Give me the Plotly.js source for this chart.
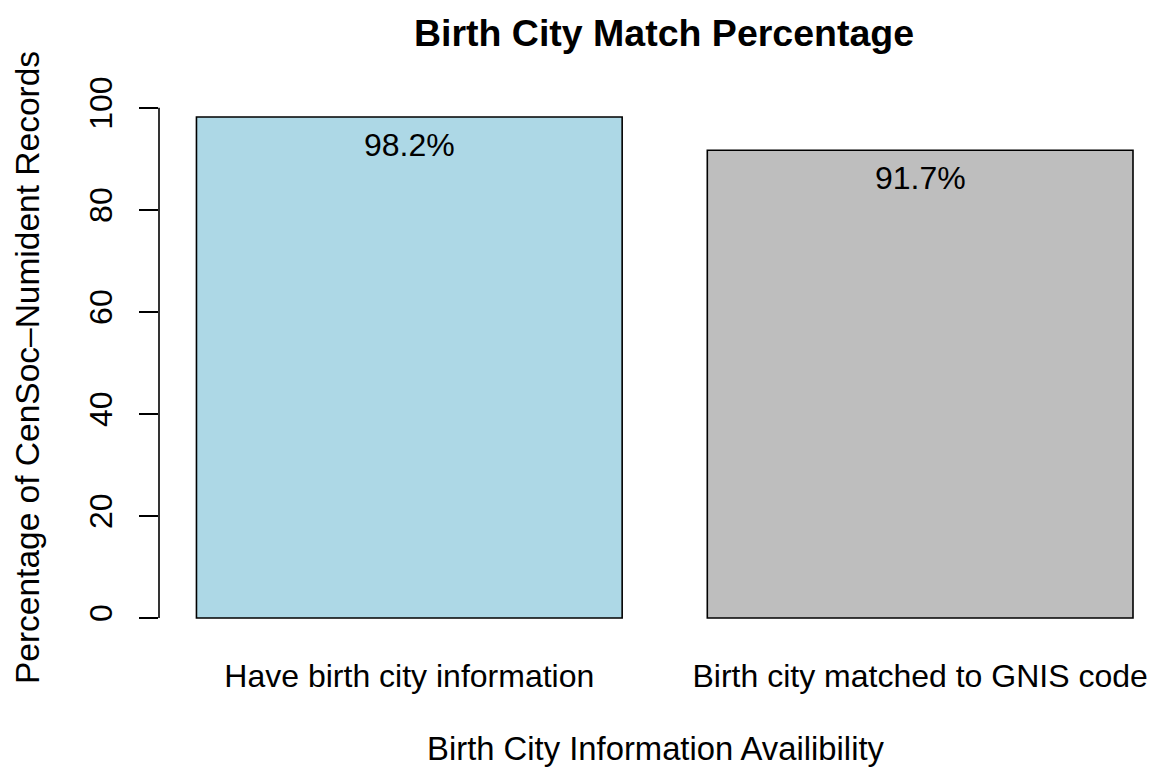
<!DOCTYPE html>
<html>
<head>
<meta charset="utf-8">
<script src="https://cdn.plot.ly/plotly-3.0.1.min.js"></script>
<style>html,body{margin:0;padding:0;background:#fff;}#chart{width:1152px;height:772px;}</style>
</head>
<body>
<div id="chart"></div>
<script>
var categories = ["Have birth city information", "Birth city matched to GNIS code"];
var percentages = [98.2, 91.7];
var barColors = ["#ADD8E6", "#BEBEBE"];
var barPositions = [0.7, 1.9];
var yTicks = [0, 20, 40, 60, 80, 100];

var font = "Liberation Sans, Arial, Helvetica, sans-serif";
var fs = 32;

var trace = {
  type: "bar",
  x: barPositions,
  y: percentages,
  width: 1,
  marker: {color: barColors, line: {color: "#000", width: 1.6}},
  hoverinfo: "none"
};

var annotations = percentages.map(function(v, i) {
  return {
    x: barPositions[i], y: v, xref: "x", yref: "y",
    text: v.toFixed(1) + "%", showarrow: false,
    yanchor: "middle", yshift: -28,
    font: {family: font, size: fs, color: "#000"}
  };
});

var layout = {
  width: 1152, height: 772,
  margin: {l: 159, r: 0, t: 97, b: 134, pad: 0},
  paper_bgcolor: "#fff", plot_bgcolor: "#fff",
  showlegend: false,
  font: {family: font, size: fs, color: "#000"},
  title: {
    text: "<b>Birth City Match Percentage</b>",
    font: {family: font, size: 37.5, color: "#000"},
    xref: "container", x: 664 / 1152, xanchor: "center",
    yref: "container", y: 1 - 33 / 772, yanchor: "middle"
  },
  xaxis: {
    range: [0.112, 0.112 + 993 / 425.7],
    tickvals: barPositions,
    ticktext: categories,
    ticks: "", showline: false, showgrid: false, zeroline: false,
    ticklabelstandoff: 16,
    tickfont: {family: font, size: fs, color: "#000"},
    title: {text: "Birth City Information Availibility", standoff: 44,
            font: {family: font, size: 32.8, color: "#000"}},
    automargin: false, fixedrange: true
  },
  yaxis: {
    range: [-3.928, 102.128],
    tickvals: yTicks,
    ticks: "outside", ticklen: 19, tickwidth: 1.6, tickcolor: "#000",
    tickangle: -90,
    showline: false, showgrid: false, zeroline: false,
    ticklabelstandoff: 14,
    tickfont: {family: font, size: fs, color: "#000"},
    title: {text: "Percentage of CenSoc\u2013Numident Records", standoff: 33,
            font: {family: font, size: 33.5, color: "#000"}},
    automargin: false, fixedrange: true
  },
  shapes: [{
    type: "line", xref: "paper", yref: "y",
    x0: 0, x1: 0, y0: yTicks[0], y1: yTicks[yTicks.length - 1],
    line: {color: "#000", width: 1.6}
  }],
  annotations: annotations
};

Plotly.newPlot("chart", [trace], layout, {displayModeBar: false, staticPlot: true});
</script>
</body>
</html>
